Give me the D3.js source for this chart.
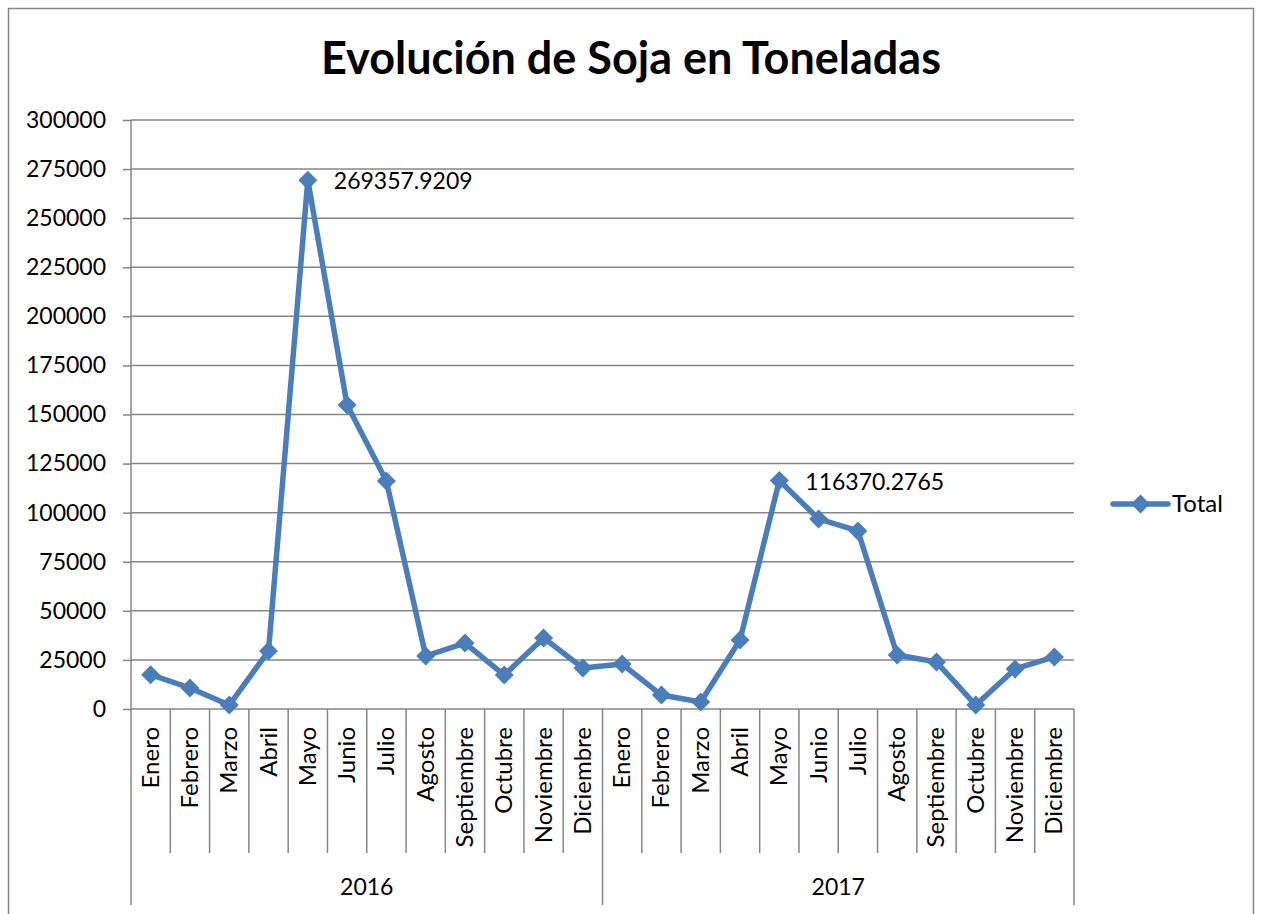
<!DOCTYPE html>
<html>
<head>
<meta charset="utf-8">
<script src="https://cdn.jsdelivr.net/npm/d3@7"></script>
<style>
  body { margin: 0; background: #fff; }
  text { font-family: Lato, "Open Sans", sans-serif; fill: #000; }
</style>
</head>
<body>
<div id="chart"></div>
<script>
// data
var years = ["2016", "2017"];
var months = ["Enero", "Febrero", "Marzo", "Abril", "Mayo", "Junio", "Julio", "Agosto",
              "Septiembre", "Octubre", "Noviembre", "Diciembre"];
var values2016 = [17500, 10700, 2000, 29500, 269357.9209, 154800, 116100, 27000, 33600, 17300, 36200, 20900];
var values2017 = [22900, 7100, 3600, 35100, 116370.2765, 96800, 90700, 27500, 23900, 2000, 20400, 26500];
var yTicks = [0, 25000, 50000, 75000, 100000, 125000, 150000, 175000, 200000, 225000, 250000, 275000, 300000];
var labelled = ["2016-4", "2017-4"]; // points with data labels
var seriesName = "Total";

var width = 1261, height = 914;
var lineColor = "#4a7ebb", gridColor = "#868686";

var svg = d3.select("#chart").append("svg")
    .attr("width", width)
    .attr("height", height);

// outer chart border
svg.append("rect")
    .attr("x", 8.5).attr("y", 8.5)
    .attr("width", 1245).attr("height", 920)
    .attr("fill", "none").attr("stroke", gridColor).attr("stroke-width", 1.5);

// title
svg.append("text")
    .attr("x", 631).attr("y", 74)
    .attr("text-anchor", "middle")
    .style("font-size", "45px").style("font-weight", "bold")
    .text("Evolución de Soja en Toneladas");

// build flat list of points
var points = [];
years.forEach(function(yr, j) {
    var vals = j == 0 ? values2016 : values2017;
    months.forEach(function(m, i) {
        points.push({ key: yr + "-" + i, year: yr, month: m, value: vals[i] });
    });
});

var plotLeft = 131, plotRight = 1074, plotTop = 120, plotBottom = 709;

var x = d3.scaleBand()
    .domain(points.map(function(d) { return d.key; }))
    .range([plotLeft, plotRight]);

var y = d3.scaleLinear()
    .domain([0, 300000])
    .range([plotBottom, plotTop]);

// y axis ticks + labels
var yAxis = svg.append("g")
    .attr("transform", "translate(" + plotLeft + ",0)")
    .call(d3.axisLeft(y).tickValues(yTicks).tickSize(8).tickFormat(d3.format("d")));
yAxis.select(".domain").remove();
yAxis.selectAll("line").attr("stroke", gridColor).attr("stroke-width", 1.5);
yAxis.selectAll("text")
    .attr("x", -25)
    .style("font-size", "23px")
    .style("font-family", "Lato, 'Open Sans', sans-serif");

// horizontal gridlines
svg.append("g").selectAll("line")
    .data(yTicks)
    .enter().append("line")
    .attr("x1", plotLeft).attr("x2", plotRight)
    .attr("y1", function(d) { return y(d); })
    .attr("y2", function(d) { return y(d); })
    .attr("stroke", gridColor).attr("stroke-width", 1.5);

// y axis line
svg.append("line")
    .attr("x1", plotLeft).attr("x2", plotLeft)
    .attr("y1", plotTop).attr("y2", 905)
    .attr("stroke", gridColor).attr("stroke-width", 1.5);

// month separators
var bw = x.bandwidth();
svg.append("g").selectAll("line")
    .data(points.slice(1))
    .enter().append("line")
    .attr("x1", function(d) { return x(d.key); })
    .attr("x2", function(d) { return x(d.key); })
    .attr("y1", plotBottom)
    .attr("y2", function(d) { return d.month == "Enero" ? 905 : 853; })
    .attr("stroke", gridColor).attr("stroke-width", 1.5);

// right edge
svg.append("line")
    .attr("x1", plotRight).attr("x2", plotRight)
    .attr("y1", plotBottom).attr("y2", 905)
    .attr("stroke", gridColor).attr("stroke-width", 1.5);

// month labels
svg.append("g").selectAll("text")
    .data(points)
    .enter().append("text")
    .attr("transform", function(d) {
        return "translate(" + (x(d.key) + bw / 2 + 8) + ",727) rotate(-90)";
    })
    .attr("text-anchor", "end")
    .style("font-size", "24px")
    .text(function(d) { return d.month; });

// year labels
svg.append("g").selectAll("text")
    .data(years)
    .enter().append("text")
    .attr("x", function(d) {
        var first = x(d + "-0"), last = x(d + "-11") + bw;
        return (first + last) / 2;
    })
    .attr("y", 895)
    .attr("text-anchor", "middle")
    .style("font-size", "23px")
    .text(String);

// the line
var line = d3.line()
    .x(function(d) { return x(d.key) + bw / 2; })
    .y(function(d) { return y(d.value); });

svg.append("path")
    .datum(points)
    .attr("fill", "none")
    .attr("stroke", lineColor)
    .attr("stroke-width", 5.5)
    .attr("stroke-linejoin", "round")
    .attr("d", line);

var diamond = d3.symbol().type(d3.symbolDiamond2).size(230);

svg.append("g").selectAll("path")
    .data(points)
    .enter().append("path")
    .attr("transform", function(d) {
        return "translate(" + (x(d.key) + bw / 2) + "," + y(d.value) + ")";
    })
    .attr("d", diamond)
    .attr("fill", lineColor);

// data labels
svg.append("g").selectAll("text")
    .data(points.filter(function(d) { return labelled.includes(d.key); }))
    .enter().append("text")
    .attr("x", function(d) { return x(d.key) + bw / 2 + 26; })
    .attr("y", function(d) { return y(d.value) + 9; })
    .style("font-size", "23px")
    .text(function(d) { return d.value.toFixed(4); });

// legend
var lg = svg.append("g").attr("transform", "translate(1113,504)");
lg.append("line")
    .attr("x1", 0).attr("x2", 55)
    .attr("stroke", lineColor).attr("stroke-width", 5.5).attr("stroke-linecap", "round");
lg.append("path")
    .attr("transform", "translate(27.5,0)")
    .attr("d", diamond)
    .attr("fill", lineColor);
lg.append("text")
    .attr("x", 59).attr("y", 8)
    .style("font-size", "24px")
    .text(seriesName);
</script>
</body>
</html>
